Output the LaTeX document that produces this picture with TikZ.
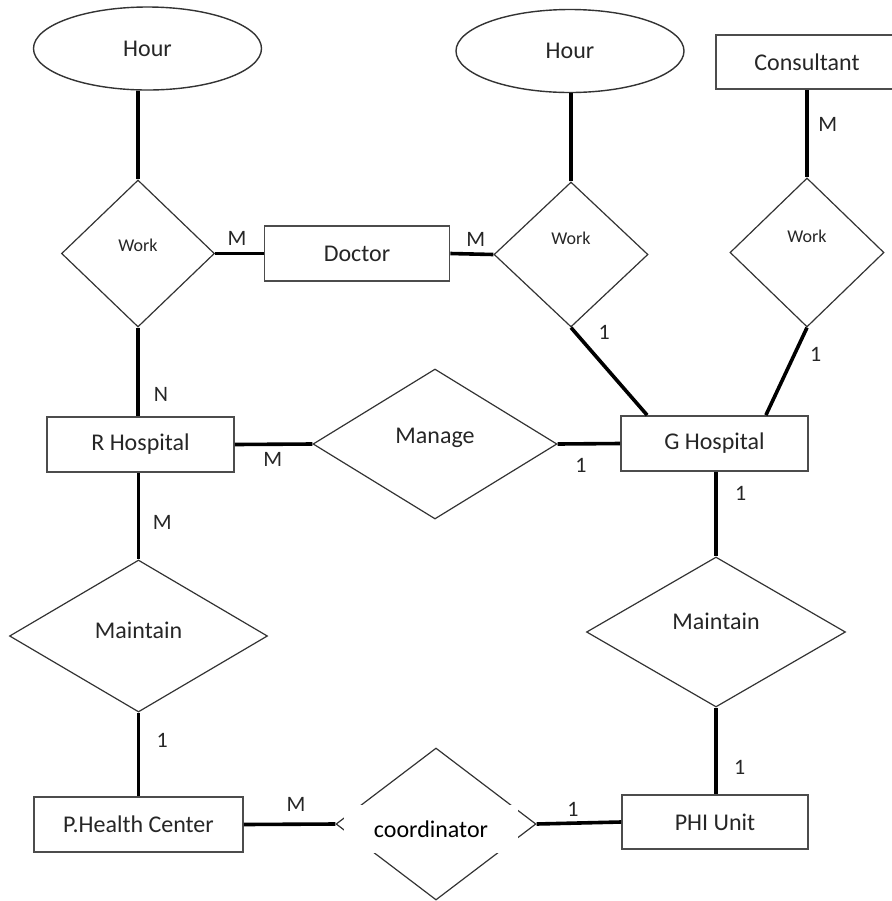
\documentclass[tikz,border=0pt]{standalone}
\usepackage{fontspec}
\setmainfont{Carlito}
\usetikzlibrary{shapes.geometric,calc}

\begin{document}
\begin{tikzpicture}[x=0.5pt, y=-0.5pt,
  ent/.style={draw=black!70, line width=0.9pt, rectangle, minimum height=27.5pt, inner sep=0pt,
    font=\fontsize{12}{14}\selectfont, text=black!85},
  rel/.style={draw=black!80, line width=0.6pt, diamond, inner sep=0pt,
    font=\fontsize{12}{14}\selectfont, text=black!85},
  work/.style={font=\fontsize{9}{11}\selectfont},
  attr/.style={draw=black!80, line width=0.7pt, ellipse, minimum width=114pt, minimum height=41.5pt,
    font=\fontsize{12}{14}\selectfont, text=black!85},
  conn/.style={line width=1.8pt},
  card/.style={font=\fontsize{11}{13}\selectfont, inner sep=1pt, text=black!85}]
  \useasboundingbox (0,0) rectangle (891,901);

  % Attributes
  \node[attr] (hourA) at (147.5,48.5) {Hour};
  \node[attr] (hourB) at (570,51) {Hour};

  % Entities
  \node[ent, minimum width=92.5pt] (doctor) at (357,253.5) {Doctor};
  \node[ent, minimum width=91pt, minimum height=27pt] (consult) at (807,62) {Consultant};
  \node[ent, minimum width=93.5pt] (rhosp) at (140.5,444.5) {R Hospital};
  \node[ent, minimum width=93.5pt] (ghosp) at (714.5,443.5) {G Hospital};
  \node[ent, minimum width=104.5pt] (phc) at (138.5,824.5) {P.Health Center};
  \node[ent, minimum width=93pt, minimum height=27pt] (phi) at (715,822) {PHI Unit};

  % Relationships
  \node[rel, work, minimum width=76.5pt, minimum height=73.5pt] (workA) at (138,253.5) {\raisebox{8pt}{Work}};
  \node[rel, work, minimum width=77pt, minimum height=72.5pt] (workB) at (571,254.5) {\raisebox{16pt}{Work}};
  \node[rel, work, minimum width=77pt, minimum height=74.5pt] (workC) at (807,252.5) {\raisebox{16.5pt}{Work}};
  \node[rel, minimum width=122pt, minimum height=75pt] (manage) at (435,444) {\raisebox{8pt}{Manage}};
  \node[rel, minimum width=129pt, minimum height=76pt] (maintA) at (138.5,636) {\raisebox{6pt}{Maintain}};
  \node[rel, minimum width=129.5pt, minimum height=75pt] (maintB) at (716,632) {\raisebox{11pt}{Maintain}};
  \node[rel, minimum width=100pt, minimum height=76pt,
    label={[fill=white, inner sep=0pt, minimum width=87pt, minimum height=24pt, xshift=-2.5pt, yshift=-2.5pt,
      font=\fontsize{12}{14}\selectfont, text=black]center:coordinator}] (coord) at (436,824) {};

  % Connectors
  \draw[conn] (workA.north) -- (workA.north |- hourA.south);
  \draw[conn] (workB.north) -- (workB.north |- hourB.south);
  \draw[conn] (workA.east) -- node[card, pos=.45, above=2pt] {M} (doctor.west);
  \draw[conn] (doctor.east) -- node[card, pos=.59, above=2pt] {M} (workB.west);
  \draw[conn] (consult.south -| workC.north) -- node[card, pos=.39, right=3.8pt] {M} (workC.north);
  \draw[conn] (workB.south) -- node[card, pos=.05, right=10pt] {1} ([xshift=13.5pt]ghosp.north west);
  \draw[conn] (workC.south) -- node[card, pos=.31, right=6pt] {1} ([xshift=-21.5pt]ghosp.north east);
  \draw[conn] (workA.south) -- node[card, pos=.76, right=6pt] {N} (workA.south |- rhosp.north);
  \draw[conn] (rhosp.east) -- node[card, pos=.49, below=2pt] {M} (manage.west);
  \draw[conn] (manage.east) -- node[card, pos=.375, below=5.5pt] {1} (ghosp.west);
  \draw[conn] (maintA.north |- rhosp.south) -- node[card, pos=.57, right=5.3pt] {M} (maintA.north);
  \draw[conn] (maintB.north |- ghosp.south) -- node[card, pos=.26, right=7.7pt] {1} (maintB.north);
  \draw[conn] (maintA.south) -- node[card, pos=.33, right=7.2pt] {1} (maintA.south |- phc.north);
  \draw[conn] (maintB.south) -- node[card, pos=.69, right=7.2pt] {1} (maintB.south |- phi.north);
  \draw[conn] (phc.east) -- node[card, pos=.57, above=4.5pt] {M} (coord.west);
  \draw[conn] (coord.east) -- node[card, pos=.43, above=1.5pt] {1} (phi.west);
\end{tikzpicture}
\end{document}
